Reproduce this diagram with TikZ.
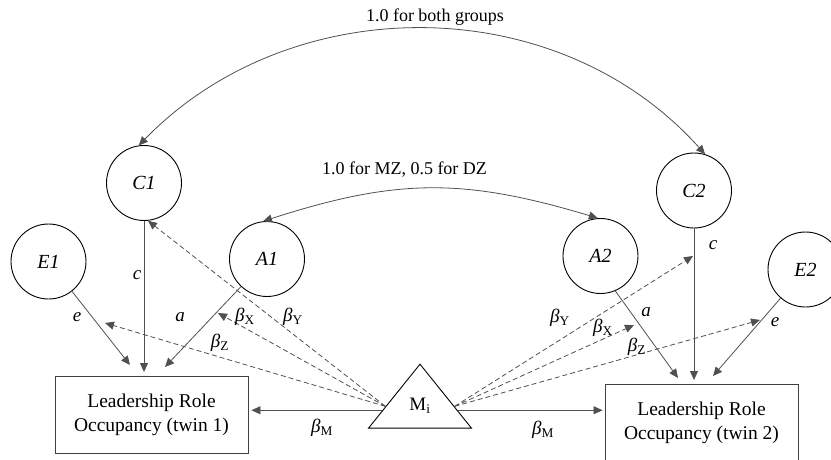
\documentclass[tikz,border=0pt]{standalone}
\usepackage{fontspec}
\setmainfont{Liberation Serif}
\usetikzlibrary{arrows.meta, shapes.geometric, calc}
\definecolor{pathgray}{RGB}{80,80,80}
\newcommand{\bcoef}[1]{\textit{β}\textsubscript{#1}}

\begin{document}
\begin{tikzpicture}[x=1pt, y=-1pt]
        \tikzstyle{latent} = [circle, draw=black, line width=0.9pt, minimum size=75pt, inner sep=0pt, font=\fontsize{20}{24}\selectfont\itshape]
        \tikzstyle{outcome} = [rectangle, draw=black!75, line width=0.9pt, minimum width=193pt, minimum height=77pt, align=center, font=\fontsize{19.5}{24}\selectfont]
        \tikzstyle{arrow} = [draw=pathgray, line width=0.8pt, -{Triangle[length=9pt,width=8pt]}]
        \tikzstyle{dasharrow} = [arrow, dash pattern=on 5pt off 3pt]
        \tikzstyle{corr} = [draw=pathgray, line width=0.8pt, {Triangle[length=9pt,width=8pt]}-{Triangle[length=9pt,width=8pt]}]
        \tikzstyle{coef} = [inner sep=0pt, font=\fontsize{19}{23}\selectfont]
        \tikzstyle{path} = [inner sep=0pt, font=\fontsize{19}{23}\selectfont\itshape]

        \useasboundingbox (0,0) rectangle (831,459);

        \node (E1) [latent] at (48.5,261.5) {E1};
        \node (C1) [latent] at (144,183) {C1};
        \node (A1) [latent] at (267,259) {A1};
        \node (A2) [latent] at (600.5,256) {A2};
        \node (C2) [latent] at (694,190.5) {C2};
        \node (E2) [latent] at (805.5,269.5) {E2};
        \node (occ1) [outcome] at (151.5,414.5) {Leadership Role\\Occupancy (twin 1)};
        \node (occ2) [outcome] at (701.5,422.5) {Leadership Role\\Occupancy (twin 2)};
        \node (mi) [isosceles triangle, isosceles triangle stretches, shape border rotate=90, draw=black, line width=0.9pt, minimum width=103pt, minimum height=64pt, inner sep=0pt, anchor=apex, font=\fontsize{19}{23}\selectfont] at (420,363) {\raisebox{5pt}{M\textsubscript{i}}};

        % where the paths meet the outcomes
        \coordinate (e1in) at (130,365);
        \coordinate (c1in) at (144,372);
        \coordinate (a1in) at (165,367);
        \coordinate (a2in) at (678,378);
        \coordinate (c2in) at (694,380);
        \coordinate (e2in) at (713,376);
        % heads of the moderated paths
        \coordinate (bx1) at (218,313);
        \coordinate (bz1) at (105,323);
        \coordinate (by2) at (693,256);
        \coordinate (bx2) at (634,325);
        \coordinate (bz2) at (760,320);
        % tails on the sides of the triangle
        \coordinate (mil) at ($(mi.apex)!0.72!(mi.left corner)$);
        \coordinate (mir) at ($(mi.apex)!0.72!(mi.right corner)$);
        \coordinate (mdl) at ($(mi.apex)!0.66!(mi.left corner)$);
        \coordinate (mdr) at ($(mi.apex)!0.66!(mi.right corner)$);

        \draw [corr] (C1.98) .. controls (291,-11) and (557,-11) .. (C2.73);
        \draw [corr] (A1.96) .. controls (397,178) and (464,178) .. (A2.94);
        \node (rc) [coef, font=\fontsize{18}{22}\selectfont] at (435,17) {1.0 for both groups};
        \node (ra) [coef, font=\fontsize{18}{22}\selectfont] at (404.5,170) {1.0 for MZ, 0.5 for DZ};

        \draw [arrow] (E1) -- (e1in);
        \draw [arrow] (C1) -- (c1in);
        \draw [arrow] (A1) -- (a1in);
        \draw [arrow] (A2.-67) -- (a2in);
        \draw [arrow] (C2) -- (c2in);
        \draw [arrow] (E2) -- (e2in);
        \draw [arrow, shorten >=3pt] (mil) -- (mil -| occ1.east);
        \draw [arrow, shorten >=2pt] (mir) -- (mir -| occ2.west);

        \draw [dasharrow] (mdl) -- (C1.-84);
        \draw [dasharrow] (mdl) -- (bx1);
        \draw [dasharrow] (mdl) -- (bz1);
        \draw [dasharrow] (mdr) -- (by2);
        \draw [dasharrow] (mdr) -- (bx2);
        \draw [dasharrow] (mdr) -- (bz2);

        \node (le1) [path] at (77,317) {e};
        \node (lc1) [path] at (137,275) {c};
        \node (la1) [path] at (180,317) {a};
        \node (la2) [path] at (646,312) {a};
        \node (lc2) [path] at (713,245) {c};
        \node (le2) [path] at (775,322) {e};
        \node (bx1l) [coef] at (245,317) {\bcoef{X}};
        \node (by1l) [coef] at (293,317) {\bcoef{Y}};
        \node (bz1l) [coef] at (220,343) {\bcoef{Z}};
        \node (bm1l) [coef] at (322,428) {\bcoef{M}};
        \node (by2l) [coef] at (560,318) {\bcoef{Y}};
        \node (bx2l) [coef] at (603,328) {\bcoef{X}};
        \node (bz2l) [coef] at (637,347) {\bcoef{Z}};
        \node (bm2l) [coef] at (543,430) {\bcoef{M}};
    \end{tikzpicture}
\end{document}
